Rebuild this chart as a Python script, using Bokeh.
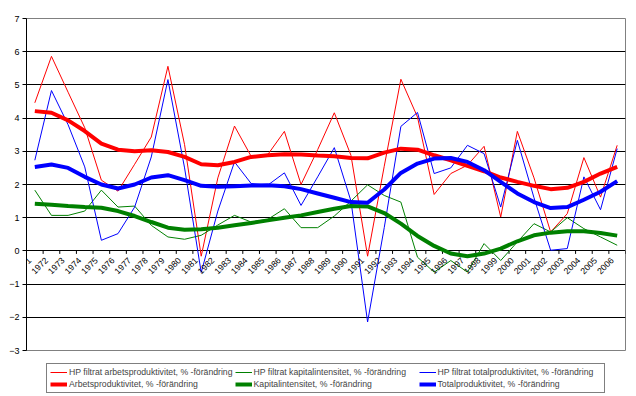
from math import pi
from bokeh.plotting import figure
from bokeh.layouts import column
from bokeh.models import (Range1d, FixedTicker, LinearAxis, Legend, LegendItem, AllLabels)
from bokeh.embed import file_html
from bokeh.resources import INLINE

years = ["1971", "1972", "1973", "1974", "1975", "1976", "1977", "1978", "1979", "1980",
         "1981", "1982", "1983", "1984", "1985", "1986", "1987", "1988", "1989", "1990",
         "1991", "1992", "1993", "1994", "1995", "1996", "1997", "1998", "1999", "2000",
         "2001", "2002", "2003", "2004", "2005", "2006"]

# thin series (raw yearly change)
arbets_raw = [4.46, 5.86, 4.78, 3.71, 2.13, 1.80, 2.61, 3.43, 5.56, 3.20,
              -0.16, 2.20, 3.76, 2.85, 2.90, 3.60, 2.00, 3.05, 4.16, 2.88,
              -0.16, 2.55, 5.17, 4.03, 1.70, 2.33, 2.58, 3.15, 1.02, 3.60,
              2.20, 0.57, 1.12, 2.81, 1.62, 3.18]
kapital_raw = [1.83, 1.07, 1.07, 1.20, 1.83, 1.32, 1.35, 0.77, 0.42, 0.35,
               0.47, 0.78, 1.07, 0.87, 0.95, 1.27, 0.70, 0.70, 1.05, 1.50,
               1.99, 1.67, 1.47, -0.19, -0.64, -0.29, -0.64, 0.22, -0.29, 0.27,
               0.82, 0.57, 1.00, 0.67, 0.42, 0.17]
total_raw = [2.73, 4.83, 3.80, 2.53, 0.32, 0.52, 1.32, 2.83, 5.16, 2.50,
             -0.65, 1.20, 2.68, 2.03, 1.98, 2.35, 1.37, 2.23, 3.11, 1.50,
             -2.14, 0.70, 3.75, 4.17, 2.33, 2.50, 3.18, 2.93, 1.32, 3.33,
             1.60, 0.02, 0.07, 2.23, 1.24, 3.08]

# thick series (smoothed trend)
arbets_hp = [4.21, 4.16, 3.93, 3.61, 3.23, 3.05, 3.00, 3.03, 2.98, 2.83,
             2.61, 2.58, 2.68, 2.83, 2.88, 2.91, 2.90, 2.87, 2.85, 2.80,
             2.79, 2.96, 3.08, 3.05, 2.88, 2.73, 2.56, 2.40, 2.21, 2.08,
             1.96, 1.86, 1.90, 2.08, 2.33, 2.53]
kapital_hp = [1.42, 1.39, 1.35, 1.32, 1.30, 1.20, 1.05, 0.87, 0.70, 0.64,
              0.65, 0.70, 0.77, 0.84, 0.92, 1.00, 1.07, 1.17, 1.27, 1.35,
              1.34, 1.14, 0.82, 0.45, 0.15, -0.08, -0.16, -0.08, 0.07, 0.29,
              0.47, 0.55, 0.59, 0.59, 0.54, 0.46]
total_hp = [2.53, 2.60, 2.50, 2.23, 2.00, 1.88, 2.00, 2.21, 2.28, 2.13,
            1.96, 1.93, 1.95, 1.97, 1.98, 1.95, 1.86, 1.73, 1.60, 1.47,
            1.45, 1.85, 2.35, 2.63, 2.78, 2.80, 2.68, 2.43, 2.08, 1.73,
            1.47, 1.29, 1.32, 1.54, 1.78, 2.10]

y_ticks = [-3, -2, -1, 0, 1, 2, 3, 4, 5, 6, 7]

labels_thin = ["HP filtrat arbetsproduktivitet, % -förändring",
               "HP filtrat kapitalintensitet, % -förändring",
               "HP filtrat totalproduktivitet, % -förändring"]
labels_thick = ["Arbetsproduktivitet, % -förändring",
                "Kapitalintensitet, % -förändring",
                "Totalproduktivitet, % -förändring"]

FONT = "Liberation Sans"
n = len(years)
xs = list(range(n))

p = figure(width=632, height=355, output_backend="svg", toolbar_location=None,
           x_range=Range1d(-0.5, n - 0.5), y_range=Range1d(y_ticks[0], y_ticks[-1]),
           x_axis_location=None, min_border_left=26, min_border_right=7,
           min_border_top=18, min_border_bottom=5)
p.background_fill_color = "white"
p.border_fill_color = "white"
p.outline_line_color = "#808080"
p.outline_line_width = 1

p.xgrid.visible = False
p.ygrid.ticker = FixedTicker(ticks=y_ticks[1:-1])
p.ygrid.grid_line_color = "black"
p.ygrid.grid_line_width = 1

ya = p.yaxis[0]
ya.ticker = FixedTicker(ticks=y_ticks)
ya.major_label_text_font = FONT
ya.major_label_text_font_size = "9px"
ya.major_label_text_color = "black"
ya.major_tick_out = 4
ya.major_tick_in = 0
ya.minor_tick_out = 0
ya.minor_tick_in = 0
ya.major_label_standoff = 3
ya.axis_line_color = "black"
ya.major_tick_line_color = "black"

# category tick marks on the zero line (at category boundaries)
bounds = [i - 0.5 for i in range(n + 1)]
tick_len = (y_ticks[-1] - y_ticks[0]) * 3.0 / 332.0
p.segment(x0=bounds, x1=bounds, y0=[0] * len(bounds), y1=[-tick_len] * len(bounds),
          line_color="black", line_width=1)

# category labels on an axis that crosses at zero (range nudged so text ends left of centre)
p.extra_x_ranges = {"lab": Range1d(-0.5 + 0.3, n - 0.5 + 0.3)}
xl = LinearAxis(fixed_location=0, x_range_name="lab", ticker=FixedTicker(ticks=xs),
                major_label_overrides={i: yr for i, yr in zip(xs, years)},
                major_label_orientation=pi / 4, major_label_policy=AllLabels(),
                major_tick_out=0, major_tick_in=0, minor_tick_out=0, minor_tick_in=0,
                axis_line_color=None, major_label_text_font=FONT,
                major_label_text_font_size="8.7px", major_label_text_color="black",
                major_label_standoff=8)
p.add_layout(xl, "below")

thin_series = [arbets_raw, kapital_raw, total_raw]
thick_series = [arbets_hp, kapital_hp, total_hp]
colors = ["#FF0000", "#008000", "#0000FF"]

for s, c in zip(thin_series, colors):
    p.line(xs, s, line_color=c, line_width=1)
for s, c in zip(thick_series, colors):
    p.line(xs, s, line_color=c, line_width=4)

# legend strip below the chart (series re-drawn out of view, only used for the legend)
p2 = figure(width=632, height=41, output_backend="svg", toolbar_location=None,
            x_range=Range1d(-0.5, n - 0.5), y_range=Range1d(100, 101),
            x_axis_location=None, y_axis_location=None,
            min_border_left=26, min_border_right=7, min_border_top=0, min_border_bottom=0)
p2.outline_line_color = None
p2.xgrid.visible = False
p2.ygrid.visible = False
p2.background_fill_color = "white"
p2.border_fill_color = "white"

thin_l = [p2.line(xs, s, line_color=c, line_width=1) for s, c in zip(thin_series, colors)]
thick_l = [p2.line(xs, s, line_color=c, line_width=4) for s, c in zip(thick_series, colors)]

items = [LegendItem(label=l, renderers=[r]) for l, r in zip(labels_thin, thin_l)] + \
        [LegendItem(label=l, renderers=[r]) for l, r in zip(labels_thick, thick_l)]
legend = Legend(items=items, ncols=3, orientation="horizontal", location=(20, 3),
                label_text_font=FONT, label_text_font_size="8.7px",
                label_width=163, label_height=10, glyph_width=17, glyph_height=10,
                label_standoff=2, spacing=2, padding=3, margin=0,
                border_line_color="black", border_line_width=1,
                background_fill_color="white", background_fill_alpha=1)
p2.add_layout(legend, "center")

layout = column(p, p2, spacing=0)
open("out.html", "w").write(file_html(layout, INLINE))
